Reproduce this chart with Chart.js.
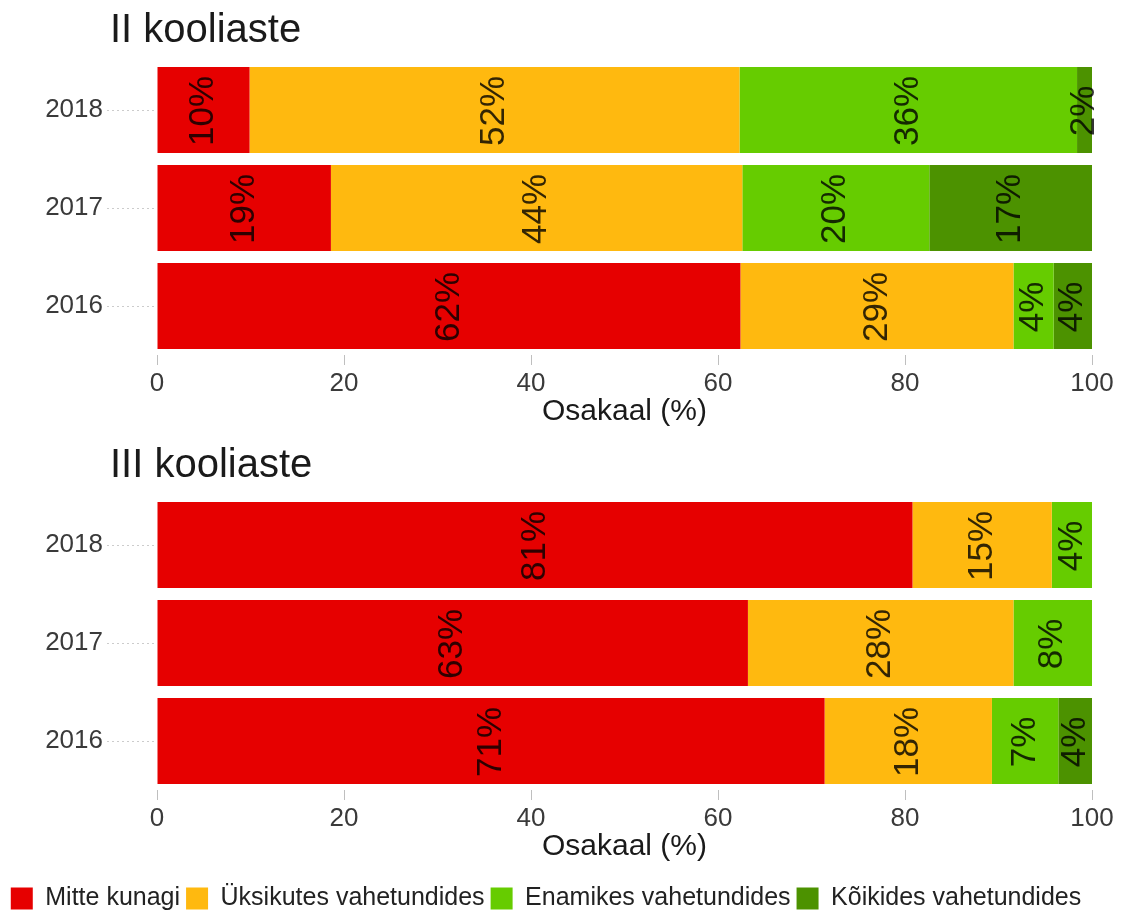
<!DOCTYPE html>
<html>
<head>
<meta charset="utf-8">
<script src="https://cdn.jsdelivr.net/npm/chart.js@4/dist/chart.umd.min.js"></script>
<style>
  body { margin: 0; background: #fff; overflow: hidden; }
  #wrap { position: relative; width: 1139px; height: 914px; overflow: hidden; }
  canvas { position: absolute; left: 0; }
  .ptitle {
    position: absolute; left: 110px;
    font-family: 'Liberation Sans', Arial, sans-serif;
    font-size: 40px; color: #1a1a1a; line-height: 1;
  }
</style>
</head>
<body>
<div id="wrap">
  <canvas id="paneel2" width="1139" height="435" style="top:0"></canvas>
  <canvas id="paneel3" width="1139" height="486" style="top:435px"></canvas>
  <div class="ptitle" style="top:8px">II kooliaste</div>
  <div class="ptitle" style="top:443px">III kooliaste</div>
</div>
<script>
const years = ["2018", "2017", "2016"];
const seriesNames = ["Mitte kunagi", "Üksikutes vahetundides", "Enamikes vahetundides", "Kõikides vahetundides"];
const xTicks = [0, 20, 40, 60, 80, 100];

// II kooliaste (2018, 2017, 2016)
const II_mitte = [9.9, 18.6, 62.4];
const II_yksik = [52.4, 44.0, 29.2];
const II_enamik = [36.1, 20.0, 4.3];
const II_koik = [1.6, 17.4, 4.1];

// III kooliaste
const III_mitte = [80.8, 63.2, 71.4];
const III_yksik = [14.9, 28.4, 17.9];
const III_enamik = [4.3, 8.4, 7.1];
const III_koik = [0, 0, 3.6];

const colors = ["#E60000", "#FFB90F", "#66CC00", "#4C9200"];
const FONT = "'Liberation Sans', Arial, sans-serif";
Chart.defaults.font.family = FONT;

const barLabels = {
  id: "barLabels",
  afterDatasetsDraw(chart) {
    const ctx = chart.ctx;
    ctx.save();
    ctx.font = "35px " + FONT;
    ctx.fillStyle = "rgba(0,0,0,0.8)";
    ctx.textAlign = "center";
    ctx.textBaseline = "middle";
    chart.data.datasets.forEach((ds, i) => {
      chart.getDatasetMeta(i).data.forEach((bar, j) => {
        const v = ds.data[j];
        if (!v) return;
        ctx.save();
        ctx.translate((bar.x + bar.base) / 2, bar.y + 1);
        ctx.rotate(-Math.PI / 2);
        ctx.fillText(Math.round(v) + "%", 0, 0);
        ctx.restore();
      });
    });
    ctx.restore();
  }
};

function makeDatasets(arrays) {
  return arrays.map((d, i) => ({
    label: seriesNames[i],
    data: d,
    backgroundColor: colors[i],
    borderWidth: 0,
    barPercentage: 0.878,
    categoryPercentage: 1
  }));
}

function makeChart(id, arrays, showLegend, axisH, titlePad) {
  const ctx = document.getElementById(id).getContext("2d");
  return new Chart(ctx, {
    type: "bar",
    data: { labels: years, datasets: makeDatasets(arrays) },
    plugins: [barLabels],
    options: {
      responsive: false,
      animation: false,
      indexAxis: "y",
      layout: { padding: { top: 61, right: 47, left: 0, bottom: 0 } },
      scales: {
        x: {
          stacked: true,
          min: 0,
          max: 100,
          afterBuildTicks: (axis) => { axis.ticks = xTicks.map((v) => ({ value: v })); },
          afterFit: (axis) => { axis.height = axisH; },
          border: { display: false },
          grid: { drawOnChartArea: false, tickLength: 10, tickColor: "rgba(0,0,0,0.25)" },
          ticks: { padding: 3, color: "#3a3a3a", font: { size: 26 } },
          title: {
            display: true,
            text: "Osakaal (%)",
            color: "#1a1a1a",
            font: { size: 30 },
            padding: { top: 0, bottom: titlePad }
          }
        },
        y: {
          stacked: true,
          afterFit: (axis) => { axis.width = 157; },
          border: { display: false },
          grid: {
            offset: false,
            drawOnChartArea: false,
            tickLength: 50,
            tickColor: "rgba(0,0,0,0.2)",
            tickBorderDash: [2, 3]
          },
          ticks: { padding: 4, color: "#3a3a3a", font: { size: 26 } }
        }
      },
      plugins: {
        tooltip: { enabled: false },
        legend: {
          display: showLegend,
          position: "bottom",
          labels: {
            boxWidth: 22,
            boxHeight: 22,
            padding: 6,
            color: "#222",
            font: { size: 25 }
          }
        }
      }
    }
  });
}

makeChart("paneel2", [II_mitte, II_yksik, II_enamik, II_koik], false, 80, 5);
makeChart("paneel3", [III_mitte, III_yksik, III_enamik, III_koik], true, 90, 15);
</script>
</body>
</html>
